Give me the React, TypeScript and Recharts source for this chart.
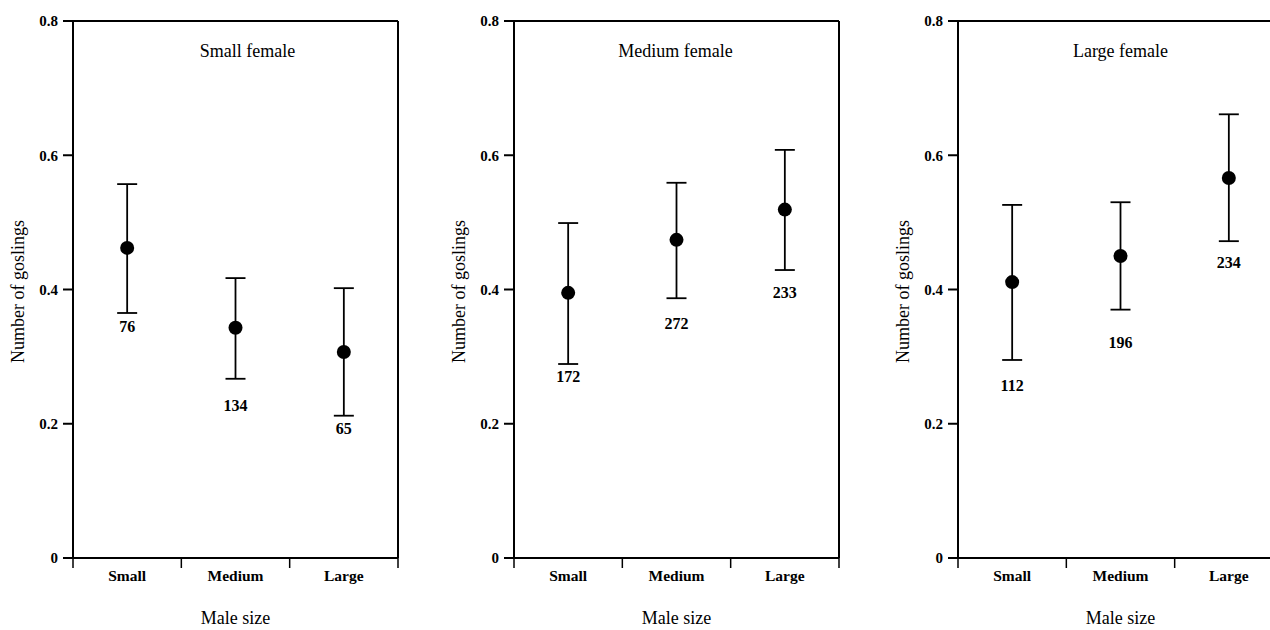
import React from 'react';
import { ScatterChart, Scatter, XAxis, YAxis, ErrorBar, ReferenceLine } from 'recharts';

const maleSizes = ['Small', 'Medium', 'Large'];
const panelTitles = ['Small female', 'Medium female', 'Large female'];

const smallFemaleMean = [0.462, 0.343, 0.307];
const smallFemaleLower = [0.365, 0.267, 0.212];
const smallFemaleUpper = [0.557, 0.417, 0.402];
const smallFemaleN = [76, 134, 65];

const mediumFemaleMean = [0.395, 0.474, 0.519];
const mediumFemaleLower = [0.289, 0.387, 0.429];
const mediumFemaleUpper = [0.499, 0.559, 0.608];
const mediumFemaleN = [172, 272, 233];

const largeFemaleMean = [0.411, 0.45, 0.566];
const largeFemaleLower = [0.295, 0.37, 0.472];
const largeFemaleUpper = [0.526, 0.53, 0.661];
const largeFemaleN = [112, 196, 234];

const yTicks = [0, 0.2, 0.4, 0.6, 0.8];
// category centres at 0,1,2 and the dividers between them at the halves
const xTicks = [-0.5, 0, 0.5, 1, 1.5, 2, 2.5];

// layout
const FONT = '"Liberation Serif", "Times New Roman", serif';
const TOP = 21;
const AXIS_W = 73;
const PLOT_W = 325;
const X_AXIS_H = 72;
const CHART_H = 630;
const CHART_W = AXIS_W + PLOT_W + 10;
const panelLeft = [0, 441, 885];
const titleDx = [12, -1, 0];
// px between the lower whisker and the baseline of the n label
const labelGap = [
  [19, 32, 18],
  [18, 31, 28],
  [31, 38, 27],
];

function MaleSizeTick({ x, y, payload }: any) {
  const v = payload.value;
  if (!Number.isInteger(v)) {
    return <line x1={x} x2={x} y1={y} y2={y + 10} stroke="#000" strokeWidth={1.5} />;
  }
  return (
    <text x={x} y={y + 23} textAnchor="middle" fill="#000" fontFamily={FONT} fontSize={15.5} fontWeight={700}>
      {maleSizes[v]}
    </text>
  );
}

interface PanelProps {
  idx: number;
  mean: number[];
  lower: number[];
  upper: number[];
  n: number[];
}

function Panel({ idx, mean, lower, upper, n }: PanelProps) {
  const points = mean.map((m, i) => ({ x: i, y: m, err: [m - lower[i], upper[i] - m] }));
  const labels = lower.map((lo, i) => ({ x: i, y: lo, n: n[i], gap: labelGap[idx][i] }));
  const plotH = CHART_H - TOP - X_AXIS_H;

  return (
    <div style={{ position: 'absolute', left: panelLeft[idx], top: 0 }}>
      <ScatterChart width={CHART_W} height={CHART_H} margin={{ top: TOP, right: 10, bottom: 0, left: 0 }}>
        <XAxis
          dataKey="x"
          type="number"
          domain={[-0.5, 2.5]}
          ticks={xTicks}
          interval={0}
          tickSize={0}
          tickMargin={0}
          tickLine={false}
          axisLine={{ stroke: '#000', strokeWidth: 2 }}
          tick={<MaleSizeTick />}
          height={X_AXIS_H}
          label={() => (
            <text
              x={AXIS_W + PLOT_W / 2}
              y={TOP + plotH + 66}
              textAnchor="middle"
              fill="#000"
              fontFamily={FONT}
              fontSize={18}
            >
              Male size
            </text>
          )}
        />
        <YAxis
          dataKey="y"
          type="number"
          domain={[0, 0.8]}
          ticks={yTicks}
          interval={0}
          width={AXIS_W}
          tickSize={10}
          tickMargin={5}
          axisLine={{ stroke: '#000', strokeWidth: 2 }}
          tickLine={{ stroke: '#000', strokeWidth: 2 }}
          tick={{ fill: '#000', fontSize: 15, fontWeight: 700, fontFamily: FONT }}
          label={() => {
            const lx = AXIS_W - 49;
            const ly = TOP + plotH / 2 + 2;
            return (
              <text
                x={lx}
                y={ly}
                transform={`rotate(-90, ${lx}, ${ly})`}
                textAnchor="middle"
                fill="#000"
                fontFamily={FONT}
                fontSize={18}
              >
                Number of goslings
              </text>
            );
          }}
        />
        <ReferenceLine
          y={0.8}
          stroke="#000"
          strokeWidth={2}
          label={() => (
            <text
              x={AXIS_W + PLOT_W / 2 + titleDx[idx]}
              y={TOP + 36}
              textAnchor="middle"
              fill="#000"
              fontFamily={FONT}
              fontSize={18}
            >
              {panelTitles[idx]}
            </text>
          )}
        />
        <ReferenceLine x={2.5} stroke="#000" strokeWidth={2} />
        <Scatter
          data={points}
          isAnimationActive={false}
          fill="#000"
          shape={(p: any) => <circle cx={p.cx} cy={p.cy} r={7} fill="#000" />}
        >
          <ErrorBar dataKey="err" direction="y" width={10} stroke="#000" strokeWidth={1.8} />
        </Scatter>
        <Scatter
          data={labels}
          isAnimationActive={false}
          fill="none"
          shape={(p: any) => (
            <text
              x={p.cx}
              y={p.cy + p.payload.gap}
              textAnchor="middle"
              fill="#000"
              fontFamily={FONT}
              fontSize={16}
              fontWeight={700}
            >
              {p.payload.n}
            </text>
          )}
        />
      </ScatterChart>
    </div>
  );
}

export default function App() {
  return (
    <div
      style={{
        position: 'absolute',
        left: 0,
        top: 0,
        width: 1270,
        height: 630,
        overflow: 'hidden',
        background: '#fff',
      }}
    >
      <Panel idx={0} mean={smallFemaleMean} lower={smallFemaleLower} upper={smallFemaleUpper} n={smallFemaleN} />
      <Panel idx={1} mean={mediumFemaleMean} lower={mediumFemaleLower} upper={mediumFemaleUpper} n={mediumFemaleN} />
      <Panel idx={2} mean={largeFemaleMean} lower={largeFemaleLower} upper={largeFemaleUpper} n={largeFemaleN} />
    </div>
  );
}
